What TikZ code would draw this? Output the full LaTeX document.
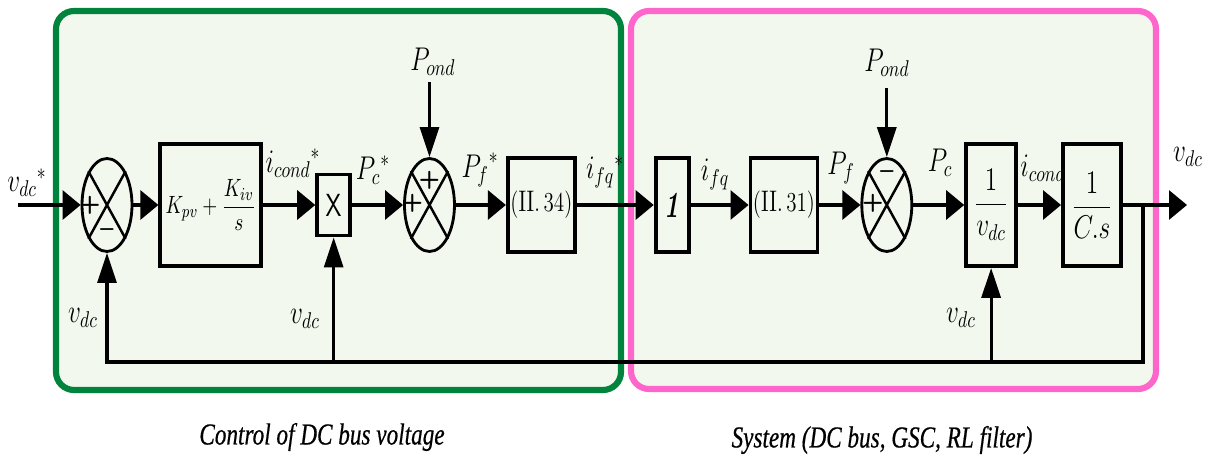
\documentclass[tikz,border=0pt]{standalone}
\usepackage{amsmath, amssymb}
\usepackage{graphicx}
\usepackage{fontspec}
\usepackage{tikz}
\usetikzlibrary{arrows.meta, positioning, shapes.geometric, calc}
\newfontfamily\titlefont[FakeBold=0.6]{Liberation Serif}
\definecolor{ctrlgreen}{HTML}{00843D}
\definecolor{syspink}{HTML}{FF66CC}
\definecolor{panelbg}{HTML}{F3F8EE}
\newcommand{\tall}[1]{\scalebox{1}[1.3]{#1}}
\newcommand{\narrow}[1]{\scalebox{0.8}[1.05]{#1}}

\begin{document}
\begin{tikzpicture}[
    x=0.02cm, y=-0.02cm,
    blk/.style={draw, line width=2.2pt, inner sep=0pt, font=\fontsize{13}{15}\selectfont},
    sum/.style={draw, ellipse, line width=1.6pt, minimum width=1.0cm, minimum height=1.86cm, inner sep=0pt},
    sig/.style={line width=1.8pt},
    harr/.style={sig, -{Triangle[length=0.36cm, width=0.58cm]}},
    varr/.style={sig, -{Triangle[length=0.6cm, width=0.38cm]}},
    lbl/.style={inner sep=0pt, font=\fontsize{14}{16}\selectfont},
    sgn/.style={inner sep=0pt, font=\sffamily\bfseries\fontsize{14}{14}\selectfont},
    panel/.style={line width=3.5pt, rounded corners=0.36cm, fill=panelbg},
    ttl/.style={font=\titlefont\itshape\fontsize{16.5}{18}\selectfont},
]
\useasboundingbox (0,0) rectangle (1206,465);

% panels
\draw[panel, draw=ctrlgreen] (56,11) rectangle (621,390);
\draw[panel, draw=syspink] (631,11) rectangle (1156,389);

% main chain
\node[sum] (s1) at (107,205) {};
\node[blk, minimum width=2.02cm, minimum height=2.44cm, right=0.5cm of s1] (pi)
    {\fontsize{11}{13}\selectfont\tall{$K_{pv}+\dfrac{K_{iv}}{s}$}};
\node[blk, minimum width=0.66cm, minimum height=1.22cm, right=1.04cm of pi] (mul)
    {\fontsize{14}{14}\selectfont\tall{\sffamily X}};
\node[sum, right=1.02cm of mul] (s2) {};
\node[blk, minimum width=1.34cm, minimum height=1.88cm, right=1.0cm of s2] (eq34)
    {\tall{$(\mathrm{II}.\,34)$}};
\node[blk, minimum width=0.66cm, minimum height=1.88cm, right=1.54cm of eq34] (one)
    {\fontsize{14}{14}\selectfont\scalebox{1}[1.5]{\bfseries\itshape 1}};
\node[blk, minimum width=1.34cm, minimum height=1.88cm, right=1.16cm of one] (eq31)
    {\tall{$(\mathrm{II}.\,31)$}};
\node[sum, right=0.82cm of eq31] (s3) {};
\node[blk, minimum width=1.0cm, minimum height=2.44cm, right=1.02cm of s3] (inv)
    {\fontsize{14}{16}\selectfont\tall{$\dfrac{1}{v_{dc}}$}};
\node[blk, minimum width=1.16cm, minimum height=2.44cm, right=0.86cm of inv] (cap)
    {\fontsize{14}{16}\selectfont\tall{$\dfrac{1}{C.s}$}};

% crosses in the summers
\draw[line width=1.4pt] (s1.north west) -- (s1.south east) (s1.north east) -- (s1.south west);
\draw[line width=1.4pt] (s2.north west) -- (s2.south east) (s2.north east) -- (s2.south west);
\draw[line width=1.4pt] (s3.north west) -- (s3.south east) (s3.north east) -- (s3.south west);
\node[sgn] (s1a) at ($(s1.center)+(-17,0)$) {+};
\node[sgn] (s1b) at ($(s1.center)+(0,28)$) {\textendash};
\node[sgn] (s2a) at ($(s2.center)+(0,-25)$) {+};
\node[sgn] (s2b) at ($(s2.center)+(-17,-2)$) {+};
\node[sgn] (s3a) at ($(s3.center)+(0,-30)$) {\textendash};
\node[sgn] (s3b) at ($(s3.center)+(-14,-2)$) {+};

% free ends
\coordinate (vin) at (18,205);
\coordinate (vout) at (1187,205);
\coordinate (br) at (1143,205);
\coordinate (fbr) at (1143,362);
\coordinate[above=1.5cm of s2] (pond2);
\coordinate[above=1.38cm of s3] (pond3);

% connectors
\draw[harr] (vin) -- (s1);
\draw[harr] (s1) -- (pi);
\draw[harr] (pi) -- (mul);
\draw[harr] (mul) -- (s2);
\draw[harr] (s2) -- (eq34);
\draw[harr] (eq34) -- (one);
\draw[harr] (one) -- (eq31);
\draw[harr] (eq31) -- (s3);
\draw[harr] (s3) -- (inv);
\draw[harr] (inv) -- (cap);
\draw[harr] (cap) -- (vout);
\draw[varr] (pond2) -- (s2);
\draw[varr] (pond3) -- (s3);
\draw[varr] (br) -- (fbr) -| (s1.south);
\draw[varr] (mul.south |- fbr) -- (mul.south);
\draw[varr] (inv.south |- fbr) -- (inv.south);

% labels
\node[lbl] (lvref) at (27,183) {\tall{${v_{dc}}^{*}$}};
\node[lbl] (lvfb) at (83,318) {\tall{$v_{dc}$}};
\node[lbl] (licond) at (293,163) {\tall{${i_{cond}}^{*}$}};
\node[lbl] (lpc) at (373,170) {\tall{${P_{c}}^{*}$}};
\node[lbl] (lvmul) at (305,319) {\tall{$v_{dc}$}};
\node[lbl] (lpond2) at (433,62) {\tall{$P_{ond}$}};
\node[lbl] (lpf) at (480,170) {\tall{${P_{f}}^{*}$}};
\node[lbl] (lifqref) at (605,172) {\tall{${i_{fq}}^{*}$}};
\node[lbl] (lifq) at (715,174) {\tall{$i_{fq}$}};
\node[lbl] (lpf2) at (841,168) {\tall{$P_{f}$}};
\node[lbl] (lpond3) at (887,63) {\tall{$P_{ond}$}};
\node[lbl] (lpc2) at (940,163) {\tall{$P_{c}$}};
\node[lbl] (licond2) at (1043,168) {\tall{$i_{cond}$}};
\node[lbl] (lvout) at (1188,157) {\tall{$v_{dc}$}};
\node[lbl] (lvinv) at (961,318) {\tall{$v_{dc}$}};

% titles
\node[ttl] (tctrl) at (322,437) {\narrow{Control of DC bus voltage}};
\node[ttl] (tsys) at (882,440) {\narrow{System (DC bus, GSC, RL filter)}};
\end{tikzpicture}
\end{document}
